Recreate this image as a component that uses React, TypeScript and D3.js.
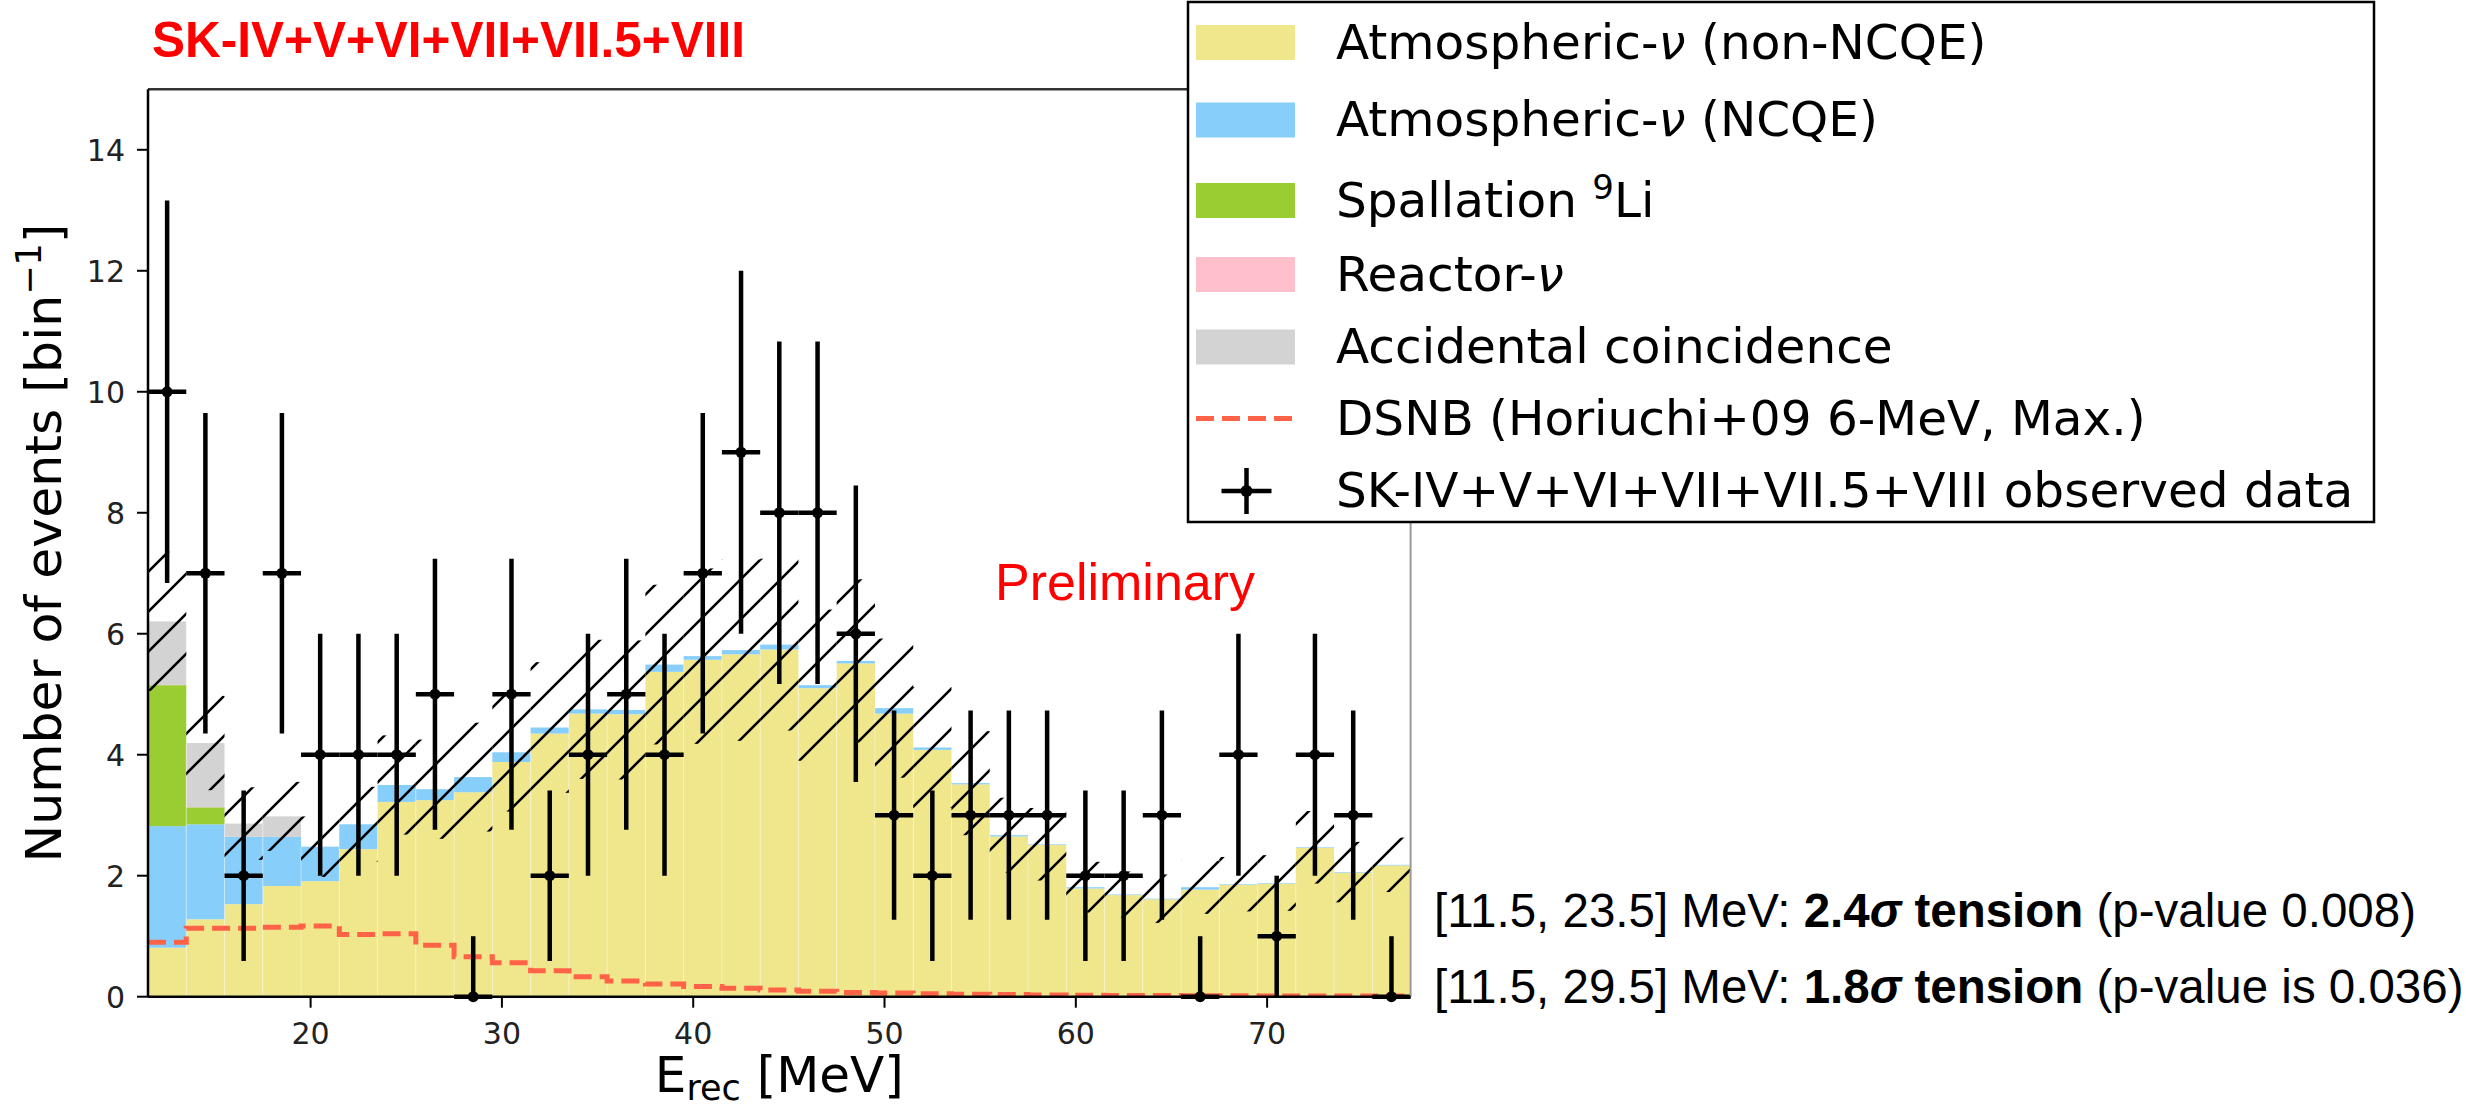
import React, { useEffect } from "react";
import * as d3 from "d3";

// ---------- data ----------
const binCenters = [12.5, 14.5, 16.5, 18.5, 20.5, 22.5, 24.5, 26.5, 28.5, 30.5, 32.5, 34.5, 36.5, 38.5, 40.5, 42.5, 44.5, 46.5, 48.5, 50.5, 52.5, 54.5, 56.5, 58.5, 60.5, 62.5, 64.5, 66.5, 68.5, 70.5, 72.5, 74.5, 76.5];
const binHalfWidth = 1;

const atmNonNCQE = [0.81, 1.28, 1.53, 1.83, 1.91, 2.44, 3.22, 3.25, 3.38, 3.88, 4.35, 4.68, 4.67, 5.37, 5.57, 5.66, 5.74, 5.10, 5.51, 4.68, 4.08, 3.51, 2.65, 2.51, 1.79, 1.68, 1.61, 1.77, 1.85, 1.87, 2.46, 2.05, 2.17];
const atmNCQE = [2.01, 1.57, 1.11, 0.81, 0.57, 0.41, 0.28, 0.18, 0.25, 0.16, 0.10, 0.07, 0.07, 0.12, 0.06, 0.07, 0.08, 0.05, 0.04, 0.09, 0.04, 0.02, 0.02, 0.01, 0.02, 0.01, 0.01, 0.04, 0.01, 0.01, 0.01, 0.01, 0.01];
const spallationLi9 = [2.33, 0.28, 0, 0, 0, 0, 0, 0, 0, 0, 0, 0, 0, 0, 0, 0, 0, 0, 0, 0, 0, 0, 0, 0, 0, 0, 0, 0, 0, 0, 0, 0, 0];
const reactorNu = [0.004, 0.003, 0.002, 0.001, 0, 0, 0, 0, 0, 0, 0, 0, 0, 0, 0, 0, 0, 0, 0, 0, 0, 0, 0, 0, 0, 0, 0, 0, 0, 0, 0, 0, 0];
const accidental = [1.05, 1.06, 0.22, 0.34, 0, 0, 0, 0, 0, 0, 0, 0, 0, 0, 0, 0, 0, 0, 0, 0, 0, 0, 0, 0, 0, 0, 0, 0, 0, 0, 0, 0, 0];
const sysError = [1.15, 0.78, 0.6, 0.57, 0.5, 0.62, 0.82, 0.82, 0.9, 0.98, 1.08, 1.15, 1.15, 1.32, 1.45, 1.5, 1.42, 1.25, 1.35, 1.15, 1.0, 0.86, 0.62, 0.6, 0.42, 0.38, 0.4, 0.44, 0.45, 0.46, 0.6, 0.5, 0.45];
const dsnb = [0.9, 1.13, 1.13, 1.15, 1.17, 1.03, 1.04, 0.85, 0.66, 0.56, 0.43, 0.33, 0.26, 0.21, 0.17, 0.14, 0.11, 0.09, 0.07, 0.06, 0.05, 0.04, 0.035, 0.03, 0.025, 0.02, 0.02, 0.015, 0.015, 0.01, 0.01, 0.01, 0.01];
const observed = [10, 7, 2, 7, 4, 4, 4, 5, 0, 5, 2, 4, 5, 4, 7, 9, 8, 8, 6, 3, 2, 3, 3, 3, 2, 2, 3, 0, 4, 1, 4, 3, 0];
const errHigh = [3.16, 2.65, 1.41, 2.65, 2, 2, 2, 2.24, 1, 2.24, 1.41, 2, 2.24, 2, 2.65, 3, 2.83, 2.83, 2.45, 1.73, 1.41, 1.73, 1.73, 1.73, 1.41, 1.41, 1.73, 1, 2, 1, 2, 1.73, 1];
const errLow = [3.16, 2.65, 1.41, 2.65, 2, 2, 2, 2.24, 0, 2.24, 1.41, 2, 2.24, 2, 2.65, 3, 2.83, 2.83, 2.45, 1.73, 1.41, 1.73, 1.73, 1.73, 1.41, 1.41, 1.73, 0, 2, 1, 2, 1.73, 0];

const xTicks = [20, 30, 40, 50, 60, 70];
const yTicks = [0, 2, 4, 6, 8, 10, 12, 14];
const xDomain = [11.5, 77.5];
const yDomain = [0, 15];

const seriesKeys = ["nonNCQE", "ncqe", "li9", "reactor", "accidental"];
const seriesColors = ["#F0E68C", "#87CEFA", "#9ACD32", "#FFC0CB", "#D3D3D3"];
const dsnbColor = "#FF6347";

const MPL = "'DejaVu Sans', sans-serif";
const ARIAL = "'Liberation Sans', Arial, sans-serif";

export default function App() {
  useEffect(() => {
    document.body.style.margin = "0";
  }, []);

  const W = 2466;
  const H = 1111;
  const plot = { left: 148, right: 1410.6, top: 89.3, bottom: 996.7 };

  const x = d3.scaleLinear().domain(xDomain).range([plot.left, plot.right]);
  const y = d3.scaleLinear().domain(yDomain).range([plot.bottom, plot.top]);

  const rows = binCenters.map((c, i) => ({
    c,
    nonNCQE: atmNonNCQE[i],
    ncqe: atmNCQE[i],
    li9: spallationLi9[i],
    reactor: reactorNu[i],
    accidental: accidental[i],
  }));
  const stacked = d3.stack<any>().keys(seriesKeys)(rows);
  const totals = rows.map((r: any) => seriesKeys.reduce((s, k) => s + r[k], 0));

  // DSNB step line
  const dsnbPts: [number, number][] = binCenters.map((c, i) => [c - binHalfWidth, dsnb[i]]);
  dsnbPts.push([binCenters[binCenters.length - 1] + binHalfWidth, dsnb[dsnb.length - 1]]);
  const dsnbLine = d3
    .line<[number, number]>()
    .x((d) => x(d[0]))
    .y((d) => y(d[1]))
    .curve(d3.curveStepAfter)(dsnbPts);

  const legendRows = [42.5, 120, 200.5, 274.5, 347, 418.6, 491];
  const legendSwX = 1196;
  const legendSwW = 99;
  const legendTextX = 1336;

  return (
    <div style={{ position: "absolute", left: 0, top: 0 }}>
      <svg width={W} height={H} viewBox={`0 0 ${W} ${H}`} style={{ display: "block", background: "#fff" }}>
        <defs>
          <pattern id="hatch" patternUnits="userSpaceOnUse" width={40} height={40}>
            <path d="M-10,10 L10,-10 M0,40 L40,0 M30,50 L50,30" stroke="#000" strokeWidth={2.6} />
          </pattern>
          <clipPath id="plotClip">
            <rect x={plot.left} y={plot.top} width={plot.right - plot.left} height={plot.bottom - plot.top} />
          </clipPath>
        </defs>

        {/* title */}
        <text x={152} y={57} fontFamily={ARIAL} fontWeight="bold" fontSize={49.5} fill="#FF0000">
          SK-IV+V+VI+VII+VII.5+VIII
        </text>

        <g clipPath="url(#plotClip)">
          {/* stacked histograms */}
          {stacked.map((layer, li) => (
            <g key={seriesKeys[li]} fill={seriesColors[li]}>
              {layer.map((d: any, i: number) => {
                const h = y(d[0]) - y(d[1]);
                if (h <= 0) return null;
                return (
                  <rect
                    key={i}
                    x={x(binCenters[i] - binHalfWidth)}
                    y={y(d[1])}
                    width={x(binCenters[i] + binHalfWidth) - x(binCenters[i] - binHalfWidth)}
                    height={h}
                  />
                );
              })}
            </g>
          ))}
          {/* faint seams between bins */}
          {binCenters.slice(1).map((c, i) => (
            <line
              key={i}
              x1={x(c - binHalfWidth)}
              x2={x(c - binHalfWidth)}
              y1={y(0)}
              y2={y(Math.min(totals[i], totals[i + 1]))}
              stroke="#fff"
              strokeOpacity={0.35}
              strokeWidth={1.2}
            />
          ))}
          {/* systematic uncertainty band */}
          {binCenters.map((c, i) => (
            <rect
              key={i}
              x={x(c - binHalfWidth)}
              y={y(totals[i] + sysError[i])}
              width={x(c + binHalfWidth) - x(c - binHalfWidth)}
              height={y(totals[i] - sysError[i]) - y(totals[i] + sysError[i])}
              fill="url(#hatch)"
            />
          ))}
          {/* DSNB */}
          <path d={dsnbLine || ""} fill="none" stroke={dsnbColor} strokeWidth={5} strokeDasharray="18,8" />
        </g>

        {/* observed data */}
        <g stroke="#000" strokeWidth={4.5}>
          {binCenters.map((c, i) => (
            <g key={i}>
              <line x1={x(c)} x2={x(c)} y1={y(observed[i] - errLow[i])} y2={y(observed[i] + errHigh[i])} />
              <line x1={x(c - binHalfWidth)} x2={x(c + binHalfWidth)} y1={y(observed[i])} y2={y(observed[i])} />
              <circle cx={x(c)} cy={y(observed[i])} r={5.5} fill="#000" stroke="none" />
            </g>
          ))}
        </g>

        {/* spines */}
        <line x1={plot.left} x2={plot.right} y1={plot.top} y2={plot.top} stroke="#333" strokeWidth={2.5} />
        <line x1={plot.right} x2={plot.right} y1={plot.top} y2={plot.bottom} stroke="#999" strokeWidth={2} />
        <line x1={plot.left} x2={plot.left} y1={plot.top} y2={plot.bottom} stroke="#000" strokeWidth={2.5} />
        <line x1={plot.left} x2={plot.right} y1={plot.bottom} y2={plot.bottom} stroke="#000" strokeWidth={2.5} />

        {/* y ticks */}
        {yTicks.map((t) => (
          <g key={t}>
            <line x1={plot.left - 11} x2={plot.left} y1={y(t)} y2={y(t)} stroke="#000" strokeWidth={2} />
            <text x={125} y={y(t) + 11} textAnchor="end" fontFamily={MPL} fontSize={30} fill="#222">
              {t}
            </text>
          </g>
        ))}
        {/* x ticks */}
        {xTicks.map((t) => (
          <g key={t}>
            <line x1={x(t)} x2={x(t)} y1={plot.bottom} y2={plot.bottom + 11} stroke="#000" strokeWidth={2} />
            <text x={x(t)} y={1043.5} textAnchor="middle" fontFamily={MPL} fontSize={30} fill="#222">
              {t}
            </text>
          </g>
        ))}

        {/* axis labels */}
        <text
          transform={`translate(61, ${(plot.top + plot.bottom) / 2}) rotate(-90)`}
          textAnchor="middle"
          fontFamily={MPL}
          fontSize={50.5}
          fill="#000"
        >
          Number of events [bin
          <tspan fontSize={35} dy={-20}>−1</tspan>
          <tspan dy={20}>]</tspan>
        </text>
        <text x={(plot.left + plot.right) / 2} y={1092} textAnchor="middle" fontFamily={MPL} fontSize={50} fill="#000">
          E<tspan fontSize={35} dy={8}>rec</tspan>
          <tspan dy={-8}> [MeV]</tspan>
        </text>

        {/* Preliminary */}
        <text x={995} y={600} fontFamily={ARIAL} fontSize={52} fill="#FF0000">
          Preliminary
        </text>

        {/* legend */}
        <rect x={1188} y={2} width={2374 - 1188} height={520} fill="#fff" stroke="#000" strokeWidth={2.5} />
        {seriesColors.map((col, i) => (
          <rect key={i} x={legendSwX} y={legendRows[i] - 17.5} width={legendSwW} height={35} fill={col} />
        ))}
        <line
          x1={legendSwX}
          x2={legendSwX + legendSwW}
          y1={legendRows[5]}
          y2={legendRows[5]}
          stroke={dsnbColor}
          strokeWidth={5}
          strokeDasharray="18,8"
        />
        <g stroke="#000" strokeWidth={4.5}>
          <line x1={1246.5} x2={1246.5} y1={legendRows[6] - 23} y2={legendRows[6] + 23} />
          <line x1={1221.5} x2={1271.5} y1={legendRows[6]} y2={legendRows[6]} />
          <circle cx={1246.5} cy={legendRows[6]} r={6} fill="#000" stroke="none" />
        </g>
        <g fontFamily={MPL} fontSize={48.5} fill="#000">
          <text x={legendTextX} y={legendRows[0] + 16}>
            Atmospheric-<tspan fontStyle="italic">ν</tspan> (non-NCQE)
          </text>
          <text x={legendTextX} y={legendRows[1] + 16}>
            Atmospheric-<tspan fontStyle="italic">ν</tspan> (NCQE)
          </text>
          <text x={legendTextX} y={legendRows[2] + 16}>
            Spallation <tspan fontSize={34} dy={-18}>9</tspan>
            <tspan dy={18}>Li</tspan>
          </text>
          <text x={legendTextX} y={legendRows[3] + 16}>
            Reactor-<tspan fontStyle="italic">ν</tspan>
          </text>
          <text x={legendTextX} y={legendRows[4] + 16}>
            Accidental coincidence
          </text>
          <text x={legendTextX} y={legendRows[5] + 16}>
            DSNB (Horiuchi+09 6-MeV, Max.)
          </text>
          <text x={legendTextX} y={legendRows[6] + 16}>
            SK-IV+V+VI+VII+VII.5+VIII observed data
          </text>
        </g>

        {/* tension annotations */}
        <g fontFamily={ARIAL} fontSize={47.5} fill="#000">
          <text x={1434} y={926.7}>
            [11.5, 23.5] MeV: <tspan fontWeight="bold">2.4</tspan>
            <tspan fontWeight="bold" fontStyle="italic">σ</tspan>
            <tspan fontWeight="bold"> tension</tspan> (p-value 0.008)
          </text>
          <text x={1434} y={1003.3}>
            [11.5, 29.5] MeV: <tspan fontWeight="bold">1.8</tspan>
            <tspan fontWeight="bold" fontStyle="italic">σ</tspan>
            <tspan fontWeight="bold"> tension</tspan> (p-value is 0.036)
          </text>
        </g>
      </svg>
    </div>
  );
}
